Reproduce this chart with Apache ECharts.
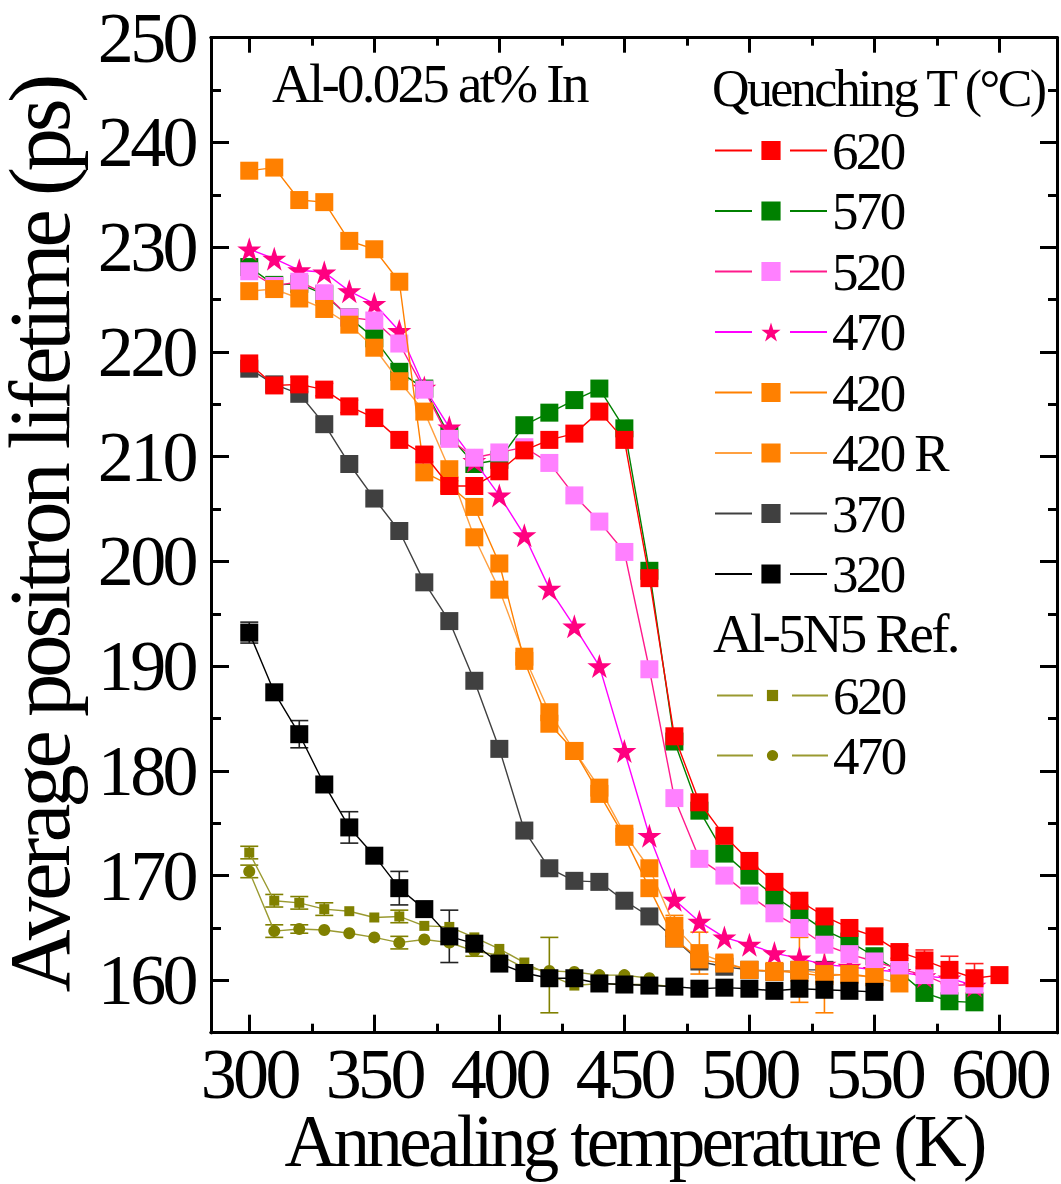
<!DOCTYPE html>
<html><head><meta charset="utf-8">
<script src="https://cdn.jsdelivr.net/npm/echarts@6/dist/echarts.min.js"></script>
<style>
html,body{margin:0;padding:0;background:#fff;}
#chart{width:1061px;height:1184px;}
#chart text{letter-spacing:-0.05em;}
</style></head><body><div id="chart"></div>
<script>
// Annealing temperatures (K)
const temps = [300,310,320,330,340,350,360,370,380,390,400,410,420,430,440,450,460,470,480,490,500,510,520,530,540,550,560,570,580,590,600];
// Quenching T series (average positron lifetime, ps)
const q620 = [218.9,216.8,216.9,216.4,214.8,213.7,211.6,210.2,207.2,207.2,208.6,210.6,211.6,212.2,214.3,211.6,198.4,183.3,177.0,173.8,171.4,169.4,167.6,166.1,165.0,164.2,162.7,161.9,161.0,160.2,160.5];
const q570 = [228.1,226.4,226.5,225.5,223.3,221.3,218.1,216.5,212.0,209.3,209.7,213.0,214.2,215.4,216.5,212.7,199.1,182.8,176.2,172.1,170.0,168.0,166.4,164.8,163.7,162.3,160.8,158.8,158.0,157.9,null];
const q520 = [227.7,226.3,226.7,225.6,223.3,223.0,220.8,216.4,211.7,209.9,210.4,210.9,209.4,206.3,203.8,200.9,189.7,177.4,171.6,170.0,168.1,166.4,165.0,163.4,162.5,161.8,161.1,160.5,159.5,159.6,null];
const q470 = [229.8,228.9,227.8,227.6,225.8,224.6,222.0,216.6,212.8,209.6,206.3,202.5,197.4,193.8,190.0,181.9,173.8,167.7,165.6,164.1,163.4,162.6,162.1,161.5,161.3,161.0,160.8,160.4,160.2,159.5,null];
const q420 = [237.3,237.6,234.5,234.3,230.6,229.8,226.7,208.5,207.3,205.2,199.8,190.5,184.5,181.9,177.8,173.7,168.8,164.0,162.0,161.6,161.0,160.9,160.7,160.4,160.6,160.3,null,null,null,null,null];
const q420R = [225.8,226.0,225.1,224.1,222.6,220.4,217.2,214.3,208.8,202.3,197.3,190.9,185.6,181.9,178.4,174.0,170.7,165.2,162.6,161.7,161.0,160.8,161.0,160.6,160.5,160.3,159.7,null,null,null,null];
const q370 = [218.4,216.9,216.0,213.1,209.3,206.0,202.9,198.0,194.3,188.6,182.1,174.3,170.7,169.5,169.4,167.6,166.1,164.0,161.8,161.3,161.0,160.8,161.0,161.0,null,null,null,null,null,null,null];
const q320 = [193.2,187.5,183.5,178.7,174.6,171.9,168.8,166.8,164.2,163.5,161.6,160.7,160.2,160.2,159.7,159.6,159.5,159.4,159.2,159.3,159.2,159.0,159.2,159.1,159.0,158.9,null,null,null,null,null];
// Al-5N5 reference
const ref620 = [172.2,167.6,167.4,166.8,166.6,166.0,166.1,165.2,165.1,164.1,163.0,161.7,160.5,159.5,159.7,159.6,159.6,159.4,null,null,null,null,null,null,null,null,null,null,null,null,null];
const ref470 = [170.4,164.7,164.9,164.8,164.5,164.1,163.6,163.9,163.6,162.8,162.4,161.2,160.9,160.8,160.5,160.5,160.2,null,null,null,null,null,null,null,null,null,null,null,null,null,null];
// error bar half-widths (ps)
const e620 = [null,null,0.7,0.6,0.6,0.8,null,0.7,0.5,null,null,0.6,null,null,null,null,null,null,null,null,null,null,null,null,null,null,0.6,1.0,1.3,1.4,null];
const e320 = [1.0,null,1.3,null,1.5,null,1.6,null,2.5,null,null,null,null,null,null,null,null,null,null,null,null,null,null,null,null,null,null,null,null,null,null];
const e420R = [null,null,null,null,null,null,null,null,null,null,null,null,null,null,null,null,null,1.0,2.0,null,null,null,3.1,3.7,null,null,null,null,null,null,null];
const eRef620 = [0.6,0.6,0.6,0.6,null,null,0.6,null,null,null,null,null,3.6,null,null,null,null,null,null,null,null,null,null,null,null,null,null,null,null,null,null];
const eRef470 = [0.6,0.6,0.4,null,null,null,0.6,null,null,0.5,null,null,null,null,null,null,null,null,null,null,null,null,null,null,null,null,null,null,null,null,null];
// axis ticks
const xMajor = [300,350,400,450,500,550,600];
const xMinor = [325,375,425,475,525,575];
const yMajor = [160,170,180,190,200,210,220,230,240,250];
const yMinor = [165,175,185,195,205,215,225,235,245];

const FONT = 'Liberation Serif';
const STAR = 'path://M50,0 L61.2,34.5 L97.6,34.5 L68.2,55.9 L79.4,90.5 L50,69.1 L20.6,90.5 L31.8,55.9 L2.4,34.5 L38.8,34.5 Z';

function pts(arr){ const out=[]; temps.forEach((t,i)=>{ if(arr[i]!=null) out.push([t,arr[i]]); }); return out; }
function errPts(arr, err){ const out=[]; temps.forEach((t,i)=>{ if(err[i]!=null && arr[i]!=null) out.push([t,arr[i]-err[i],arr[i]+err[i]]); }); return out; }

function lineSeries(name, arr, color, lineColor, symbol, size, z){
  return {type:'line', name:name, data:pts(arr), symbol:symbol, symbolSize:size,
    itemStyle:{color:color, opacity:1}, lineStyle:{color:lineColor, width:1.4},
    z:z, animation:false, emphasis:{disabled:true}};
}
function errSeries(arr, err, color, z){
  return {type:'custom', data:errPts(arr, err), z:z, animation:false, silent:true,
    encode:{x:0, y:[1,2]},
    renderItem:function(params, api){
      const x=api.value(0), lo=api.value(1), hi=api.value(2);
      const a=api.coord([x,hi]), b=api.coord([x,lo]); const hw=9;
      const st={stroke:color, lineWidth:1.6, fill:null};
      return {type:'group', children:[
        {type:'line', shape:{x1:a[0],y1:a[1],x2:b[0],y2:b[1]}, style:st},
        {type:'line', shape:{x1:a[0]-hw,y1:a[1],x2:a[0]+hw,y2:a[1]}, style:st},
        {type:'line', shape:{x1:b[0]-hw,y1:b[1],x2:b[0]+hw,y2:b[1]}, style:st}]};
    }};
}

const axisLineStyle = {color:'#000', width:3};
function xAx(pos, ticks, len, labels){
  return {type:'value', min:284.7, max:623, position:pos,
    axisLine:{show:true, onZero:false, lineStyle:axisLineStyle},
    axisTick:{show:true, inside:true, length:len, customValues:ticks, lineStyle:{color:'#000', width:3}},
    axisLabel:labels ? {show:true, customValues:xMajor, fontFamily:FONT, fontSize:72, lineHeight:62, color:'#000', margin:10} : {show:false},
    splitLine:{show:false}};
}
function yAx(pos, ticks, len, labels){
  return {type:'value', min:155, max:250, position:pos,
    axisLine:{show:true, onZero:false, lineStyle:axisLineStyle},
    axisTick:{show:true, inside:true, length:len, customValues:ticks, lineStyle:{color:'#000', width:3}},
    axisLabel:labels ? {show:true, customValues:yMajor, fontFamily:FONT, fontSize:72, lineHeight:60, color:'#000', margin:16} : {show:false},
    splitLine:{show:false}};
}

const xAxes = [xAx('bottom', xMajor, 18, true), xAx('bottom', xMinor, 9, false), xAx('top', xMajor, 15, false), xAx('top', xMinor, 8, false)];
xAxes[0].name = 'Annealing temperature (K)';
xAxes[0].nameLocation = 'middle';
xAxes[0].nameGap = 77;
xAxes[0].nameMoveOverlap = false;
xAxes[0].nameTextStyle = {fontFamily:FONT, fontSize:73, lineHeight:63, color:'#000'};
const yAxes = [yAx('left', yMajor, 18, true), yAx('left', yMinor, 10, false), yAx('right', yMajor, 17, false), yAx('right', yMinor, 9, false)];
yAxes[0].name = 'Average positron lifetime (ps)';
yAxes[0].nameLocation = 'middle';
yAxes[0].nameGap = 128;
yAxes[0].nameMoveOverlap = false;
yAxes[0].nameTextStyle = {fontFamily:FONT, fontSize:87, color:'#000'};

const series = [
  errSeries(q320, e320, '#222', 1),
  errSeries(ref620, eRef620, '#808000', 1),
  errSeries(ref470, eRef470, '#808000', 1),
  errSeries(q420R, e420R, '#ff8000', 1),
  errSeries(q620, e620, '#ff2020', 1),
  lineSeries('370', q370, '#404040', '#404040', 'rect', 18, 2),
  lineSeries('570', q570, '#008000', '#008000', 'rect', 18, 3),
  lineSeries('470', q470, '#ff0080', '#ff00ff', STAR, 24, 4),
  lineSeries('520', q520, '#ff80ff', '#ff1a8c', 'rect', 18, 5),
  lineSeries('420 R', q420R, '#ff8000', '#ffa040', 'rect', 18, 6),
  lineSeries('420', q420, '#ff8000', '#ff8000', 'rect', 18, 7),
  lineSeries('620', q620, '#ff0000', '#ff0000', 'rect', 18, 8),
  lineSeries('Ref 620', ref620, '#808000', '#9a9a30', 'rect', 10, 9),
  lineSeries('Ref 470', ref470, '#808000', '#9a9a30', 'circle', 12, 9),
  lineSeries('320', q320, '#000000', '#000000', 'rect', 18, 10)
];

const option = {
  animation:false,
  backgroundColor:'#fff',
  grid:{left:211, right:4, top:37.7, bottom:151.3, containLabel:false, outerBoundsMode:'none'},
  xAxis:xAxes,
  yAxis:yAxes,
  legend:[
    {data:['620','570','520','470','420','420 R','370','320'], orient:'vertical', left:709, top:119,
     itemWidth:112, itemHeight:24, itemGap:7.5, selectedMode:false,
     lineStyle:{type:[37,38]},
     textStyle:{fontFamily:FONT, fontSize:53, color:'#000', lineHeight:53}},
    {data:['Ref 620','Ref 470'], orient:'vertical', left:711, top:664,
     itemWidth:111, itemHeight:14, itemGap:7, selectedMode:false,
     lineStyle:{type:[36,39]},
     formatter:function(n){return n.replace('Ref ','');},
     textStyle:{fontFamily:FONT, fontSize:53, color:'#000', lineHeight:53}}
  ],
  graphic:[
    {type:'text', left:712, top:62, style:{text:'Quenching T (°C)', font:'52px "Liberation Serif"', fill:'#000'}},
    {type:'text', left:713, top:606, style:{text:'Al-5N5 Ref.', font:'55px "Liberation Serif"', fill:'#000'}},
    {type:'text', left:272, top:56, style:{text:'Al-0.025 at% In', font:'55px "Liberation Serif"', fill:'#000'}}
  ],
  series:series
};
const chart = echarts.init(document.getElementById('chart'), null, {renderer:'svg', width:1061, height:1184});
chart.setOption(option);
</script></body></html>
